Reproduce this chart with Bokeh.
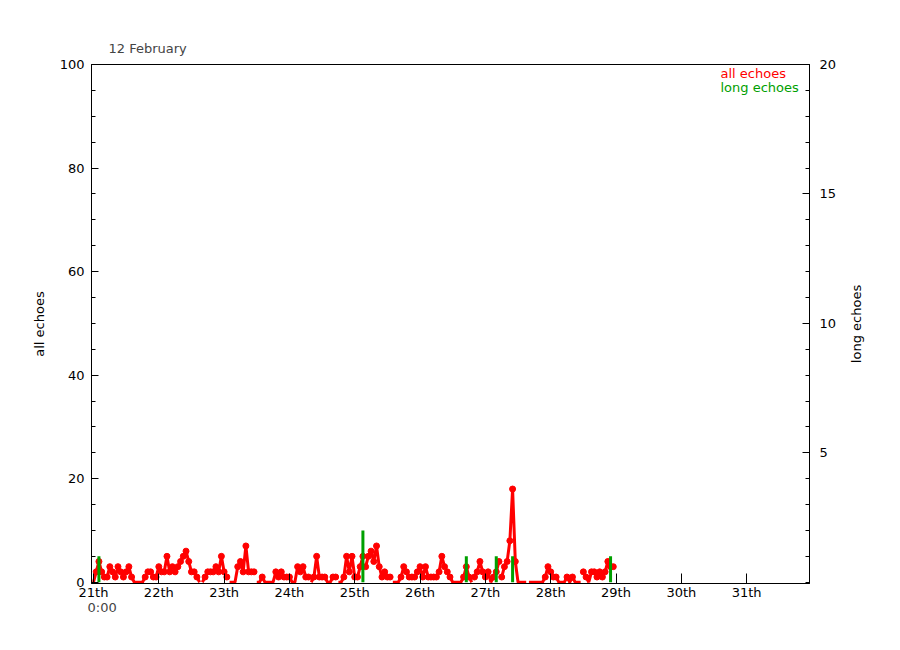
from bokeh.plotting import figure
from bokeh.layouts import row
from bokeh.models import Range1d, LinearAxis, FixedTicker, Label, Title
from bokeh.embed import file_html
from bokeh.resources import INLINE

# hourly counts from 21th 0:00
all_echoes = [
    0, 2, 4, 2, 1, 1, 3, 2, 1, 3, 2, 1, 2, 3, 1, 0, 0, 0, 0, 1, 2, 2, 1, 1,
    3, 2, 2, 5, 2, 3, 2, 3, 4, 5, 6, 4, 2, 2, 1, 0, 0, 1, 2, 2, 2, 3, 2, 5,
    2, 1, 0, 0, 0, 3, 4, 2, 7, 2, 2, 2, 0, 0, 1, 0, 0, 0, 0, 2, 1, 2, 1, 1,
    1, 0, 0, 3, 2, 3, 1, 1, 0, 1, 5, 1, 1, 1, 0, 0, 1, 1, 0, 0, 1, 5, 2, 5,
    1, 1, 3, 5, 3, 5, 6, 4, 7, 3, 1, 2, 1, 1, 0, 0, 0, 1, 3, 2, 1, 1, 1, 2,
    3, 1, 3, 1, 1, 1, 1, 2, 5, 3, 2, 1, 0, 0, 0, 0, 1, 3, 1, 0, 1, 2, 4, 2,
    1, 2, 0, 1, 2, 4, 1, 3, 4, 8, 18, 4, 0, 0, 0, 0, 0, 0, 0, 0, 0, 0, 1, 3,
    2, 1, 1, 0, 0, 0, 1, 0, 1, 0, 0, 0, 2, 1, 0, 2, 2, 1, 2, 1, 2, 4, 3, 3,
]
hours = list(range(len(all_echoes)))

long_hours = [2, 99, 137, 148, 154, 190]
long_echoes = [1, 2, 1, 1, 1, 1]

day_ticks = [0, 24, 48, 72, 96, 120, 144, 168, 192, 216, 240]
day_labels = ["21th", "22th", "23th", "24th", "25th", "26th", "27th",
              "28th", "29th", "30th", "31th"]
start_time = "0:00"
left_ticks = [0, 20, 40, 60, 80, 100]
right_ticks = [5, 10, 15, 20]

FONT = "DejaVu Sans"
FS = "13px"
RED = "#ff0000"
GREEN = "#00a000"

p = figure(width=845, height=645, output_backend="svg", toolbar_location=None,
           x_range=Range1d(-0.73, 263.1), y_range=Range1d(-0.25, 100),
           min_border_left=91, min_border_right=36, min_border_top=64,
           min_border_bottom=62, y_axis_location=None, x_axis_location=None)
p.extra_y_ranges = {"long": Range1d(-0.05, 20)}
p.grid.visible = False
p.outline_line_color = "black"
p.outline_line_width = 1
p.background_fill_color = "white"
p.border_fill_color = "white"

xax = LinearAxis(ticker=FixedTicker(ticks=day_ticks, minor_ticks=[]))
xax.major_label_overrides = {t: l for t, l in zip(day_ticks, day_labels)}
yl = LinearAxis(ticker=FixedTicker(ticks=left_ticks, minor_ticks=list(range(0, 101, 5))),
                axis_label="all echoes")
yr = LinearAxis(y_range_name="long",
                ticker=FixedTicker(ticks=right_ticks, minor_ticks=list(range(0, 21))))
for ax in (xax, yl, yr):
    ax.axis_line_color = "black"
    ax.major_tick_line_color = "black"
    ax.minor_tick_line_color = "black"
    ax.major_tick_out = 0
    ax.minor_tick_out = 0
    ax.major_label_text_font = FONT
    ax.major_label_text_font_size = FS
    ax.major_label_text_color = "black"
    ax.axis_label_text_font = FONT
    ax.axis_label_text_font_size = FS
    ax.axis_label_text_font_style = "normal"
    ax.axis_label_text_color = "black"
xax.major_tick_in = 10
xax.major_label_standoff = 1
yl.major_tick_in = 7
yl.minor_tick_in = 4
yl.major_label_standoff = 7
yl.axis_label_standoff = 10
yr.major_tick_in = 7
yr.minor_tick_in = 4
yr.major_label_standoff = 10
p.add_layout(xax, "below")
p.add_layout(yl, "left")
p.add_layout(yr, "right")

p.title.text = "12 February"
p.title.align = "left"
p.title.offset = 17
p.title.text_font = FONT
p.title.text_font_size = FS
p.title.text_font_style = "normal"
p.title.standoff = 18

p.add_layout(Title(text=start_time, align="left", offset=-4, standoff=-10,
                   text_font=FONT, text_font_size=FS, text_font_style="normal"),
             "below")

# red line drawn in 10-hour blocks
xs, ys = [], []
for s in range(0, len(hours), 10):
    xs.append(hours[s:s + 10])
    ys.append(all_echoes[s:s + 10])
p.multi_line(xs, ys, line_color=RED, line_width=3)
nz_x = [h for h, v in zip(hours, all_echoes) if v > 0]
nz_y = [v for v in all_echoes if v > 0]
p.scatter(nz_x, nz_y, size=6, color=RED)

p.segment(x0=long_hours, y0=[0] * len(long_hours), x1=long_hours, y1=long_echoes,
          y_range_name="long", line_color=GREEN, line_width=3)

p.add_layout(Label(x=230.4, y=98.2, text="all echoes", text_color=RED,
                   text_font=FONT, text_font_size=FS, text_baseline="middle"))
p.add_layout(Label(x=230.4, y=95.5, text="long echoes", text_color=GREEN,
                   text_font=FONT, text_font_size=FS, text_baseline="middle"))

# narrow strip carrying the right-hand axis title, reading bottom to top
p2 = figure(width=50, height=645, output_backend="svg", toolbar_location=None,
            x_range=Range1d(0, 1), y_range=Range1d(0, 1),
            min_border_left=15, min_border_right=0, min_border_top=64,
            min_border_bottom=62, y_axis_location=None, x_axis_location=None)
p2.grid.visible = False
p2.outline_line_color = None
p2.border_fill_color = "white"
lab = LinearAxis(ticker=FixedTicker(ticks=[], minor_ticks=[]), axis_label="long echoes")
lab.axis_line_color = None
lab.major_tick_line_color = None
lab.minor_tick_line_color = None
lab.major_tick_in = 0
lab.major_tick_out = 0
lab.minor_tick_in = 0
lab.minor_tick_out = 0
lab.major_label_standoff = 0
lab.axis_label_standoff = 0
lab.axis_label_text_font = FONT
lab.axis_label_text_font_size = FS
lab.axis_label_text_font_style = "normal"
lab.axis_label_text_color = "black"
p2.add_layout(lab, "left")

open("out.html", "w").write(file_html(row(p, p2), INLINE))
